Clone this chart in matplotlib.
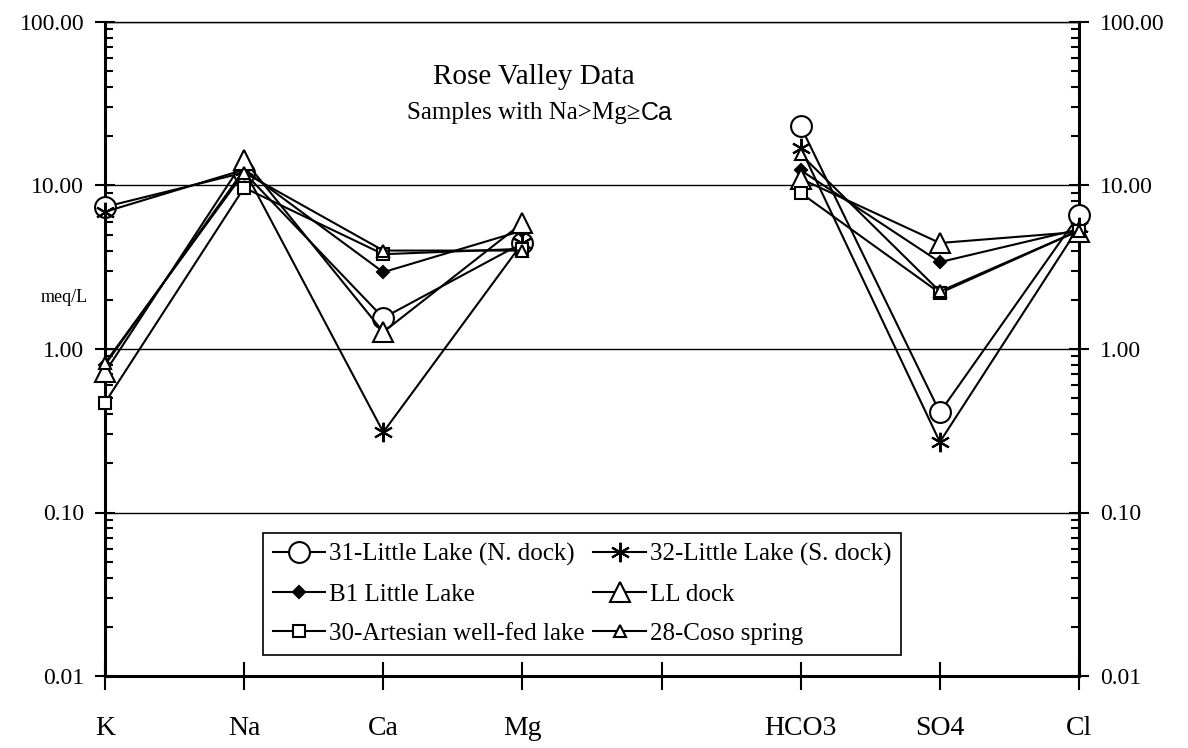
import matplotlib
matplotlib.use("Agg")
import matplotlib.pyplot as plt
from matplotlib.ticker import LogLocator, NullFormatter, FixedLocator

plt.rcParams['font.family'] = ['Liberation Serif', 'DejaVu Serif']

# ---- data ----
ions = ['K', 'Na', 'Ca', 'Mg', '', 'HCO3', 'SO4', 'Cl']
cations = ['K', 'Na', 'Ca', 'Mg']
anions = ['HCO3', 'SO4', 'Cl']

names = ['31-Little Lake (N. dock)', '32-Little Lake (S. dock)', 'B1 Little Lake',
         'LL dock', '30-Artesian well-fed lake', '28-Coso spring']
cation_vals = {
    '31-Little Lake (N. dock)': [7.4, 12.0, 1.55, 4.45],
    '32-Little Lake (S. dock)': [6.9, 12.5, 0.31, 4.45],
    'B1 Little Lake': [0.80, 12.5, 2.95, 5.3],
    'LL dock': [0.72, 14.3, 1.27, 5.9],
    '30-Artesian well-fed lake': [0.47, 9.7, 3.8, 4.1],
    '28-Coso spring': [0.82, 12.0, 4.0, 4.0],
}
anion_vals = {
    '31-Little Lake (N. dock)': [23.0, 0.41, 6.6],
    '32-Little Lake (S. dock)': [17.0, 0.27, 5.6],
    'B1 Little Lake': [12.4, 3.4, 5.4],
    'LL dock': [11.0, 4.45, 5.2],
    '30-Artesian well-fed lake': [9.0, 2.2, 5.3],
    '28-Coso spring': [15.5, 2.25, 5.3],
}
ytick_vals = [0.01, 0.1, 1, 10, 100]
ytick_labels = ['0.01', '0.10', '1.00', '10.00', '100.00']

styles = {
    '31-Little Lake (N. dock)': dict(marker='o', ms=15, mfc='white'),
    '32-Little Lake (S. dock)': dict(marker=(6, 2, 0), ms=14, mfc='black'),
    'B1 Little Lake': dict(marker='D', ms=6, mfc='black'),
    'LL dock': dict(marker='^', ms=15, mfc='white'),
    '30-Artesian well-fed lake': dict(marker='s', ms=8, mfc='white'),
    '28-Coso spring': dict(marker='^', ms=8, mfc='white'),
}

fig = plt.figure(figsize=(11.88, 7.48), dpi=100)
ax = fig.add_axes([105/1188, 72/748, 974/1188, 654/748])

pos = {n: i for i, n in enumerate(ions) if n}
handles = {}
for name in names:
    st = styles[name]
    xc = [pos[c] for c in cations]
    xa = [pos[a] for a in anions]
    h, = ax.plot(xc, cation_vals[name], color='black', lw=1.5, mec='black', mew=1.5,
                 clip_on=False, zorder=3, **st)
    ax.plot(xa, anion_vals[name], color='black', lw=1.5, mec='black', mew=1.5,
            clip_on=False, zorder=3, **st)
    handles[name] = h

ax.set_yscale('log')
ax.set_ylim(0.01, 100)
ax.set_xlim(0, 7)

ax.yaxis.set_major_locator(FixedLocator(ytick_vals))
ax.set_yticklabels(ytick_labels)
ax.yaxis.set_minor_locator(LogLocator(base=10, subs=range(2, 10)))
ax.yaxis.set_minor_formatter(NullFormatter())
ax.tick_params(axis='y', which='major', direction='inout', length=14, width=1.5,
               left=True, right=True, labelleft=True, labelright=True,
               labelsize=17, pad=8)
ax.tick_params(axis='y', which='minor', direction='in', length=6, width=1.5,
               left=True, right=True)

ax.set_xticks(range(len(ions)))
ax.set_xticklabels(ions)
ax.tick_params(axis='x', which='major', direction='inout', length=20, width=1.5,
               labelsize=20, pad=19)

ax.yaxis.grid(True, which='major', color='black', lw=1.0)
ax.set_axisbelow(True)

for side in ['left', 'right', 'bottom']:
    ax.spines[side].set_linewidth(2.2)
ax.spines['top'].set_linewidth(1.0)

fig.text(64/1188, 1 - 298/748, 'meq/L', ha='center', va='center', fontsize=13)

fig.text(534/1188, 1 - 77/748, 'Rose Valley Data', ha='center', va='center', fontsize=21)
t1 = fig.text(407/1188, 1 - 113/748, 'Samples with Na>Mg\u2265', ha='left', va='center',
              fontsize=18)
fig.canvas.draw()
bb = t1.get_window_extent(fig.canvas.get_renderer())
fig.text(bb.x1 / fig.bbox.width, 1 - 113/748, 'Ca', ha='left', va='center', fontsize=18,
         family=['Liberation Sans', 'DejaVu Sans'])

order = ['31-Little Lake (N. dock)', 'B1 Little Lake', '30-Artesian well-fed lake',
         '32-Little Lake (S. dock)', 'LL dock', '28-Coso spring']
leg = ax.legend([handles[n] for n in order], order, ncol=2, loc='lower left',
                bbox_to_anchor=(0.162, 0.032), borderaxespad=0, fontsize=18,
                frameon=True, fancybox=False, edgecolor='black', framealpha=1,
                handlelength=2.1, handletextpad=0.15, columnspacing=0.35,
                labelspacing=0.68, borderpad=0.4)
leg.get_frame().set_linewidth(1.2)
leg.set_zorder(5)

fig.savefig('out.png', dpi=100)
